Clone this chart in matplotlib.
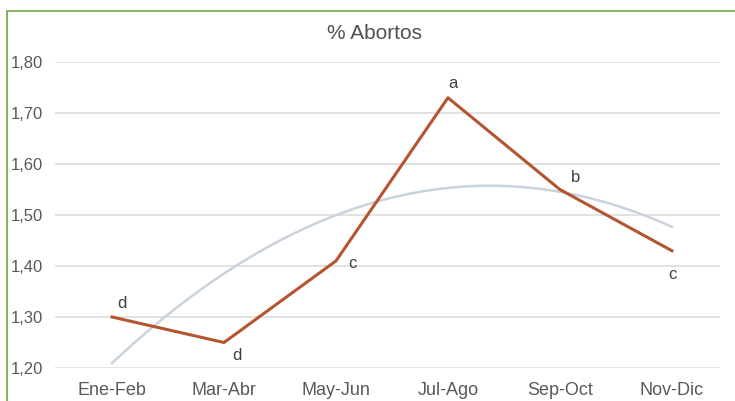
import numpy as np
import matplotlib
matplotlib.use('Agg')
import matplotlib.pyplot as plt
from matplotlib.patches import Rectangle

# Datos: porcentaje de abortos por bimestre
bimestres = ['Ene-Feb', 'Mar-Abr', 'May-Jun', 'Jul-Ago', 'Sep-Oct', 'Nov-Dic']
abortos = [1.30, 1.25, 1.41, 1.73, 1.55, 1.43]
letras = ['d', 'd', 'c', 'a', 'b', 'c']

plt.rcParams['font.family'] = ['Liberation Sans', 'DejaVu Sans']

fig = plt.figure(figsize=(7.35, 4.01), dpi=100)
ax = fig.add_axes([0.0748, 0.0823, 0.9048, 0.763])

x = np.arange(len(bimestres))

# Línea de tendencia polinómica (orden 2)
coef = np.polyfit(x, abortos, 2)
xs = np.linspace(0, len(bimestres) - 1, 200)
ax.plot(xs, np.polyval(coef, xs), color='#c9d2de', linewidth=1.8, zorder=2)

# Serie principal
ax.plot(x, abortos, color='#b5552f', linewidth=2.2, zorder=3)

# Letras de significancia
desp = [(7, 10), (9, -9.5), (11.5, -2), (3.5, 10), (11, 8.5), (0.5, -17)]
for xi, yi, t, (dx, dy) in zip(x, abortos, letras, desp):
    ax.annotate(t, (xi, yi), xytext=(dx, dy), textcoords='offset points',
                ha='center', va='center', fontsize=12, color='#404040')

ax.set_xlim(-0.51, 5.43)
ax.set_ylim(1.20, 1.80)
ax.set_yticks(np.arange(1.20, 1.81, 0.10))
ax.set_yticklabels([f'{v:.2f}'.replace('.', ',') for v in np.arange(1.20, 1.81, 0.10)])
ax.set_xticks(x)
ax.set_xticklabels(bimestres)
ax.tick_params(axis='both', length=0, colors='#595959')
ax.tick_params(axis='x', pad=10, labelsize=13)
ax.tick_params(axis='y', pad=8.5, labelsize=12)
ax.grid(axis='y', color='#e2e2e2', linewidth=1.4)
ax.set_axisbelow(True)
for s in ax.spines.values():
    s.set_visible(False)

fig.text(0.51, 0.917, '% Abortos', ha='center', va='center', fontsize=15, color='#505050')

# Borde verde del cuadro
fig.patches.append(Rectangle((7 / 735, -0.1), 1.2, 1 - 11 / 401 + 0.1,
                             transform=fig.transFigure, fill=False,
                             edgecolor='#7aab4f', linewidth=1.3))

fig.savefig('out.png', dpi=100)
